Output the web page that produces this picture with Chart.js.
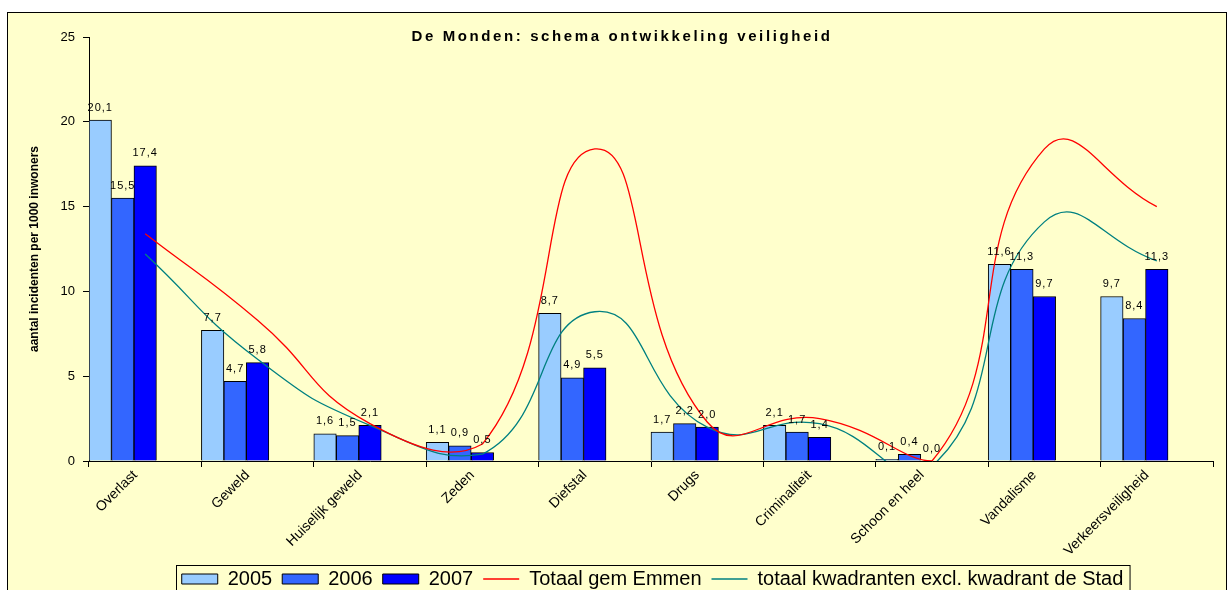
<!DOCTYPE html>
<html>
<head>
<meta charset="utf-8">
<script src="https://cdn.jsdelivr.net/npm/chart.js@4"></script>
<style>
html, body { margin: 0; padding: 0; background: #fff; overflow: hidden; }
</style>
</head>
<body>
<canvas id="grafiek" width="1228" height="596"></canvas>
<script>
// gegevens
const categorieen = ['Overlast', 'Geweld', 'Huiselijk geweld', 'Zeden', 'Diefstal', 'Drugs',
                     'Criminaliteit', 'Schoon en heel', 'Vandalisme', 'Verkeersveiligheid'];
const jaar2005 = [20.1, 7.7, 1.6, 1.1, 8.7, 1.7, 2.1, 0.1, 11.6, 9.7];
const jaar2006 = [15.5, 4.7, 1.5, 0.9, 4.9, 2.2, 1.7, 0.4, 11.3, 8.4];
const jaar2007 = [17.4, 5.8, 2.1, 0.5, 5.5, 2.0, 1.4, 0.0, 9.7, 11.3];
const totaalEmmen = [13.4, 8.3, 2.2, 1.0, 18.4, 2.3, 2.5, 0.0, 18.4, 15.0];
const totaalKwadranten = [12.2, 6.0, 2.1, 0.4, 8.8, 2.0, 2.2, -0.3, 14.1, 11.8];
const yTicks = [0, 5, 10, 15, 20, 25];
const leeg = categorieen.map(() => null); // lege staven, houden de ruimte vrij zoals in Excel

const FONT = '"Liberation Sans", Arial, sans-serif';
Chart.defaults.font.family = FONT;
Chart.defaults.color = '#000';

// achtergrond + kader
const kader = {
    id: 'kader',
    afterLayout(chart) {
        // legenda iets naar rechts en omlaag, zoals in het origineel
        const lg = chart.legend;
        lg.left += 46; lg.right += 46;
        lg.top += 3; lg.bottom += 3;
    },
    beforeDraw(chart) {
        const ctx = chart.ctx;
        ctx.save();
        ctx.fillStyle = '#FFFFCC';
        ctx.fillRect(7, 12, 1220, chart.height);
        ctx.strokeStyle = '#000';
        ctx.lineWidth = 1;
        ctx.strokeRect(7.5, 12.5, 1219, chart.height + 5);
        ctx.restore();
    },
    afterDraw(chart) {
        const ctx = chart.ctx;
        ctx.save();
        // titel in het plotvlak
        ctx.font = 'bold 15px ' + FONT;
        ctx.letterSpacing = '2.6px';
        ctx.textAlign = 'center';
        ctx.textBaseline = 'alphabetic';
        ctx.fillStyle = '#000';
        ctx.fillText('De Monden: schema ontwikkeling veiligheid', 622, 41);
        // rand om de legenda
        const boxes = chart.legend.legendHitBoxes;
        if (boxes && boxes.length) {
            const l = Math.min(...boxes.map(b => b.left)) - 6;
            const r = Math.max(...boxes.map(b => b.left + b.width)) + 6;
            const t = Math.min(...boxes.map(b => b.top)) - 4;
            ctx.letterSpacing = '0px';
            ctx.strokeStyle = '#000';
            ctx.strokeRect(Math.round(l) + 0.5, Math.round(t) + 0.5, r - l, 60);
        }
        ctx.restore();
    }
};

// waarden boven de staven
const waardeLabels = {
    id: 'waardeLabels',
    afterDatasetsDraw(chart) {
        const ctx = chart.ctx;
        ctx.save();
        ctx.font = '11px ' + FONT;
        ctx.letterSpacing = '1px';
        ctx.fillStyle = '#000';
        ctx.textAlign = 'center';
        ctx.textBaseline = 'bottom';
        [0, 1, 2].forEach(i => {
            chart.getDatasetMeta(i).data.forEach((bar, j) => {
                const v = chart.data.datasets[i].data[j];
                ctx.fillText(v.toFixed(1).replace('.', ','), bar.x, bar.y - 7);
            });
        });
        ctx.restore();
    }
};

new Chart(document.getElementById('grafiek'), {
    type: 'bar',
    data: {
        labels: categorieen,
        datasets: [
            { label: '2005', data: jaar2005, backgroundColor: '#99CCFF', borderColor: '#000', borderWidth: 1, order: 1 },
            { label: '2006', data: jaar2006, backgroundColor: '#3366FF', borderColor: '#000', borderWidth: 1, order: 1 },
            { label: '2007', data: jaar2007, backgroundColor: '#0000FF', borderColor: '#000', borderWidth: 1, order: 1 },
            { type: 'line', label: 'Totaal gem Emmen', data: totaalEmmen, borderColor: '#FF0000', backgroundColor: '#FF0000',
              borderWidth: 1.3, pointRadius: 0, tension: 0.5, fill: false, order: 0 },
            { type: 'line', label: 'totaal kwadranten excl. kwadrant de Stad', data: totaalKwadranten, borderColor: '#008080',
              backgroundColor: '#008080', borderWidth: 1.3, pointRadius: 0, tension: 0.5, fill: false, order: 0 },
            { label: '', data: leeg, order: 1 },
            { label: '', data: leeg, order: 1 }
        ]
    },
    options: {
        responsive: false,
        animation: false,
        categoryPercentage: 1,
        barPercentage: 1,
        layout: { padding: { top: 37, right: 15, left: 0, bottom: 0 } },
        scales: {
            x: {
                grid: { display: true, drawOnChartArea: false, drawTicks: true, tickLength: 6, color: '#000' },
                border: { color: '#000' },
                ticks: { minRotation: 45, maxRotation: 45, font: { size: 14 }, padding: 0, labelOffset: -10 },
                afterFit: s => { s.height = 95; }
            },
            y: {
                min: 0, max: 25,
                grid: { display: true, drawOnChartArea: false, drawTicks: true, tickLength: 6, color: '#000' },
                border: { color: '#000' },
                ticks: { font: { size: 13 }, padding: 8 },
                afterBuildTicks: s => { s.ticks = yTicks.map(v => ({ value: v })); },
                title: { display: true, text: 'aantal incidenten per 1000 inwoners',
                         font: { size: 12, weight: 'bold' }, padding: { top: 27, bottom: 0 } },
                afterFit: s => { s.width = 89; }
            }
        },
        plugins: {
            tooltip: { enabled: false },
            legend: {
                position: 'bottom',
                labels: {
                    usePointStyle: true,
                    pointStyleWidth: 36,
                    boxHeight: 10,
                    padding: 10,
                    font: { size: 20 },
                    filter: item => item.datasetIndex < 5,
                    sort: (a, b) => a.datasetIndex - b.datasetIndex,
                    generateLabels: chart => {
                        const items = Chart.defaults.plugins.legend.labels.generateLabels(chart);
                        items.forEach(it => { it.pointStyle = it.datasetIndex >= 3 ? 'line' : 'rect'; });
                        return items;
                    }
                }
            }
        }
    },
    plugins: [kader, waardeLabels]
});
</script>
</body>
</html>
